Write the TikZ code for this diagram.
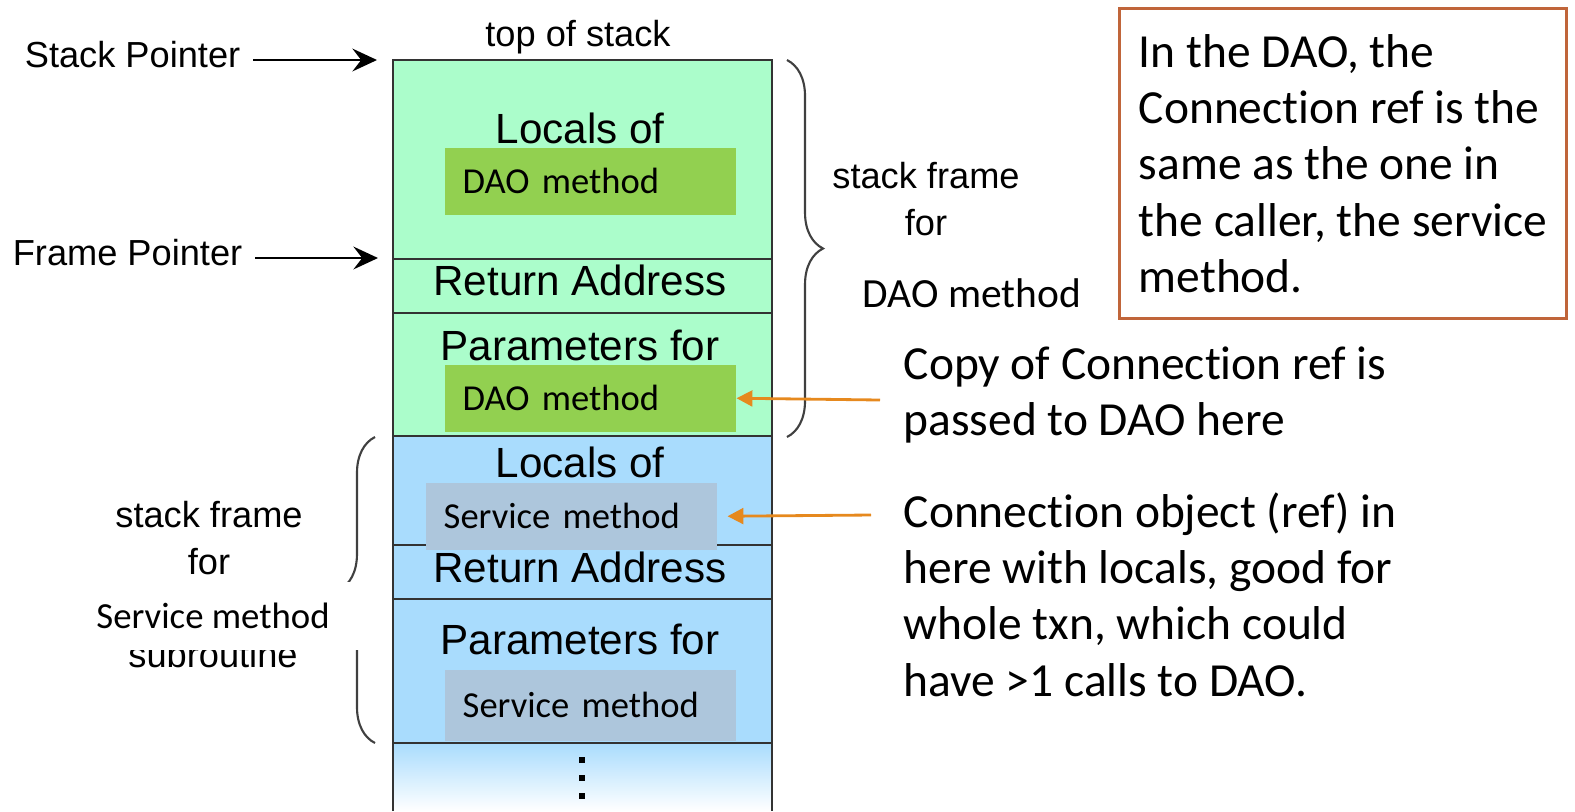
\documentclass[tikz,border=0pt]{standalone}
\usepackage{fontspec}
\setmainfont{Liberation Sans}
\newfontfamily\calibri[Ligatures=NoCommon]{Carlito}
\usetikzlibrary{arrows.meta, decorations.pathreplacing, positioning}
\definecolor{framegreen}{HTML}{ABFDCB}
\definecolor{frameblue}{HTML}{A9DCFD}
\definecolor{daogreen}{HTML}{92D050}
\definecolor{svcgrey}{HTML}{ADC6DC}
\definecolor{reforange}{HTML}{E6891E}
\definecolor{noteborder}{HTML}{C0653A}

\begin{document}
\begin{tikzpicture}[x=0.01cm, y=-0.01cm,
	sidetext/.style={font=\fontsize{10.3}{13.1}\selectfont, inner sep=0pt, align=center},
	ptrtext/.style={font=\fontsize{10.3}{13.1}\selectfont, inner xsep=0.12cm, inner ysep=0pt},
	celltext/.style={font=\fontsize{12}{14}\selectfont, inner sep=0pt, anchor=base},
	methodbox/.style={font=\calibri\fontsize{10.4}{12}\selectfont, anchor=north west,
		inner xsep=0.18cm, inner ysep=0pt, text width=2.55cm, align=left, minimum height=0.67cm},
	notetext/.style={font=\calibri\fontsize{13.5}{16}\selectfont, inner sep=0pt, align=left},
	cellline/.style={line width=0.5pt, black!80},
	pointer/.style={-{Stealth[length=7pt, width=6.5pt, inset=2.5pt]}, line width=0.6pt},
	refarrow/.style={-{Triangle[length=4.5pt, width=4.5pt]}, line width=0.8pt, reforange},
	framebrace/.style={decorate, decoration={brace, amplitude=0.36cm}, line width=0.6pt, black!75}]
	\useasboundingbox (0,0) rectangle (1575,811);
	%Stack cells
	\fill[framegreen] (393,60) rectangle (772,436);
	\fill[frameblue] (393,436) rectangle (772,743);
	\shade[top color=frameblue, bottom color=white] (393,743) rectangle (772,811);
	\draw[cellline] (393,811) -- (393,60) -- (772,60) -- (772,811);
	\foreach \y in {259,313,436,545,599,743}
		\draw[cellline] (393,\y) -- (772,\y);
	\foreach \y in {760,778,796}
		\fill (579,\y-3) rectangle +(6,6);
	\node[sidetext, anchor=base] (toptext) at (578,46) {top of stack};
	% DAO method frame
	\node[celltext] (dlocals) at (580,143) {Locals of};
	\node[methodbox, fill=daogreen] (dlocalsbox) at (444,147) {DAO method};
	\node[celltext] (dret) at (580,295) {Return Address};
	\node[celltext] (dparams) at (580,360) {Parameters for};
	\node[methodbox, fill=daogreen] (dparamsbox) at (444,364) {DAO method};
	% Service method frame
	\node[celltext] (slocals) at (580,477) {Locals of};
	\node[methodbox, fill=svcgrey] (slocalsbox) at (425,482) {Service method};
	\node[celltext] (sret) at (580,582) {Return Address};
	\node[celltext] (sparams) at (580,654) {Parameters for};
	\node[methodbox, fill=svcgrey, minimum height=0.71cm] (sparamsbox) at (444,669) {Service method};
	% Pointers
	\node[ptrtext, anchor=base east] (sp) at (253,67) {Stack Pointer};
	\coordinate (sptop) at (377,60);
	\draw[pointer] (sp.east |- sptop) -- (sptop);
	\node[ptrtext, anchor=base east] (fp) at (255,265) {Frame Pointer};
	\coordinate (fptop) at (378,258);
	\draw[pointer] (fp.east |- fptop) -- (fptop);
	% Braces
	\draw[framebrace] (787,60) -- (787,437);
	\node[sidetext, anchor=base] (dframe) at (926,235) {stack frame\\for};
	\node[font=\calibri\fontsize{11.8}{13}\selectfont, inner sep=0pt, anchor=base] (dname) at (972,307) {DAO method};
	\draw[framebrace] (375,743) -- (375,437);
	\node[sidetext, anchor=base] (sframe) at (209,574) {stack frame\\for};
	\node[sidetext, anchor=base] (ssub) at (213,667) {subroutine};
	\node[fill=white, font=\calibri\fontsize{10.45}{12}\selectfont, minimum width=2.96cm, minimum height=0.68cm, inner sep=0pt] (sname) at (213,616) {Service method};
	% Notes
	\node[notetext, draw=noteborder, line width=0.8pt, minimum width=4.47cm, minimum height=3.1cm, anchor=north west] (dnote) at (1118,7)
		{In the DAO, the\\Connection ref is the\\same as the one in\\the caller, the service\\method.};
	\node[notetext, anchor=north west] (copynote) at (903,346) {Copy of Connection ref is\\passed to DAO here};
	\coordinate (copyfrom) at (880,400);
	\draw[refarrow] (copyfrom) -- (dparamsbox.east);
	\node[notetext, anchor=north west] (connnote) at (903,492) {Connection object (ref) in\\here with locals, good for\\whole txn, which could\\have >1 calls to DAO.};
	\coordinate (connfrom) at (871,515);
	\draw[refarrow] (connfrom) -- ([xshift=0.1cm]slocalsbox.east);
\end{tikzpicture}
\end{document}
